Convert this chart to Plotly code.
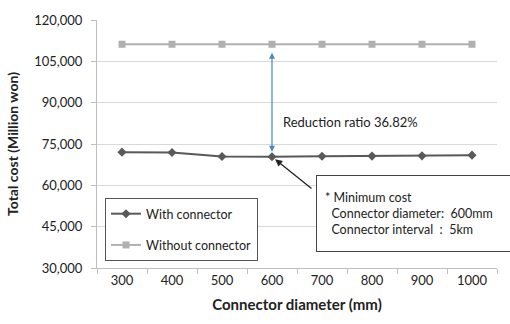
import plotly.graph_objects as go

diameters = ["300", "400", "500", "600", "700", "800", "900", "1000"]
with_connector = [72050, 71900, 70450, 70350, 70550, 70600, 70700, 70950]
without_connector = [111200, 111200, 111200, 111200, 111200, 111200, 111200, 111200]
y_ticks = [30000, 45000, 60000, 75000, 90000, 105000, 120000]
y_ticklabels = ["30,000", "45,000", "60,000", "75,000", "90,000", "105,000", "120,000"]

FONT = "Lato, Carlito, 'Liberation Sans', sans-serif"
imin = diameters.index("600")

fig = go.Figure()
fig.add_trace(go.Scatter(
    x=diameters, y=with_connector, name="With connector", mode="lines+markers",
    line=dict(color="#595959", width=2),
    marker=dict(symbol="diamond", size=7, color="#595959"),
    legendgroup="a",
))
fig.add_trace(go.Scatter(
    x=diameters, y=without_connector, name="Without connector", mode="lines+markers",
    line=dict(color="#b0b0b0", width=2),
    marker=dict(symbol="square", size=7, color="#b0b0b0"),
    legendgroup="b",
))

# Blue double arrow between curves at 600 mm
fig.add_annotation(
    x=imin, y=with_connector[imin], ax=imin, ay=without_connector[imin],
    xref="x", yref="y", axref="x", ayref="y",
    text="", showarrow=True, arrowside="end+start", arrowhead=2, arrowsize=1,
    arrowwidth=1.2, arrowcolor="#4a86c8", standoff=5, startstandoff=7,
)
fig.add_annotation(
    x=imin, y=(with_connector[imin] + without_connector[imin]) / 2,
    xref="x", yref="y", text="Reduction ratio 36.82%", showarrow=False,
    xanchor="left", xshift=9, yshift=-21, font=dict(family=FONT, size=13, color="#222"),
)
# Black arrow to minimum
fig.add_annotation(
    x=imin, y=with_connector[imin], xref="x", yref="y",
    ax=41, ay=33, axref="pixel", ayref="pixel",
    text="", showarrow=True, arrowhead=2, arrowsize=1.1, arrowwidth=1.3,
    arrowcolor="#222", standoff=4,
)
# Info box
fig.add_annotation(
    x=0.5475, y=0.377, xref="paper", yref="paper", xanchor="left", yanchor="top",
    text="* Minimum cost<br>  Connector diameter:  600mm<br>  Connector interval  :  5km",
    showarrow=False, align="left", valign="middle",
    bordercolor="#444", borderwidth=1, borderpad=8, bgcolor="white",
    font=dict(family=FONT, size=12.5, color="#222"),
    width=182, height=59,
)

fig.update_layout(
    width=510, height=324,
    margin=dict(l=97, r=13, t=16, b=56),
    paper_bgcolor="white", plot_bgcolor="white",
    font=dict(family=FONT, size=13, color="#222"),
    showlegend=True,
    legend=dict(
        x=0.02, y=0.282, xanchor="left", yanchor="top",
        bgcolor="white", bordercolor="#555", borderwidth=1,
        font=dict(family=FONT, size=12.5, color="#222"),
        tracegroupgap=12, itemwidth=30,
    ),
    xaxis=dict(
        type="category", categoryorder="array", categoryarray=diameters,
        showgrid=False, showline=True, linecolor="#bfbfbf", linewidth=1,
        ticks="outside", tickson="boundaries", ticklen=5, tickcolor="#bfbfbf",
        tickfont=dict(family=FONT, size=13, color="#222"),
        title=dict(text="<b>Connector diameter (mm)</b>", font=dict(family=FONT, size=15, color="#222"), standoff=12),
        range=[-0.5, 7.5],
    ),
    yaxis=dict(
        range=[30000, 120000], tickvals=y_ticks, ticktext=y_ticklabels,
        showgrid=True, gridcolor="#d9d9d9", gridwidth=1,
        showline=True, linecolor="#bfbfbf", linewidth=1,
        ticks="outside", ticklen=5, tickcolor="#bfbfbf",
        tickfont=dict(family=FONT, size=13, color="#222"),
        ticklabelstandoff=6,
        zeroline=False,
        title=dict(text="<b>Total cost (Million won)</b>", font=dict(family=FONT, size=14, color="#222"), standoff=12),
    ),
)

fig.write_html("out.html")
